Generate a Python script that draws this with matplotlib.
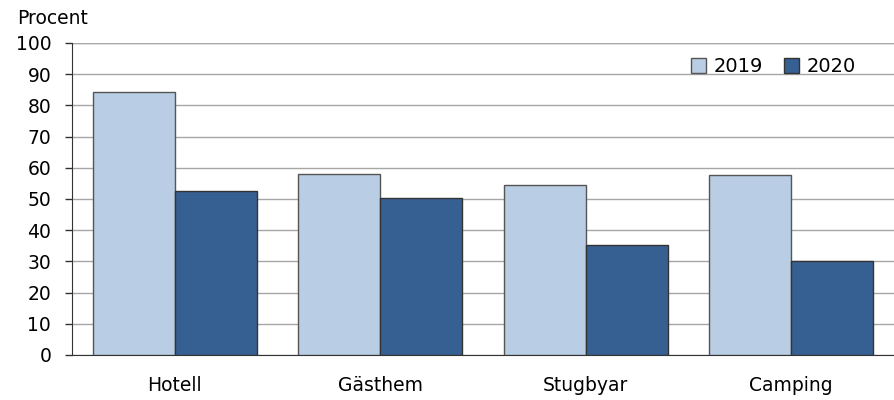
import numpy as np
import matplotlib.pyplot as plt

kategorier = ['Hotell', 'Gästhem', 'Stugbyar', 'Camping']
ar_2019 = [84.2, 58.1, 54.5, 57.8]
ar_2020 = [52.5, 50.3, 35.4, 30.2]
serier = ['2019', '2020']
yticks = [0, 10, 20, 30, 40, 50, 60, 70, 80, 90, 100]

plt.rcParams['font.family'] = ['DejaVu Sans']

fig = plt.figure(figsize=(8.94, 4.0), dpi=100)
ax = fig.add_axes([72 / 894, 45 / 400, 822 / 894, 312 / 400])

x = np.arange(len(kategorier))
b = 0.4
ax.bar(x - b / 2, ar_2019, width=b, color='#B9CDE5', edgecolor='#555555', linewidth=1.0, label=serier[0], zorder=3)
ax.bar(x + b / 2, ar_2020, width=b, color='#376092', edgecolor='#333333', linewidth=1.0, label=serier[1], zorder=3)

ax.set_xlim(-0.5, len(kategorier) - 0.5)
ax.set_ylim(0, 100)
ax.set_yticks(yticks)
ax.set_xticks(x)
ax.set_xticklabels(kategorier)
ax.grid(axis='y', color='#A6A6A6', linewidth=1.0, zorder=0)
ax.tick_params(axis='y', length=5, width=1, color='#333333', pad=10, labelsize=13.5)
ax.tick_params(axis='x', length=0, pad=15, labelsize=13.5)
for s in ['top', 'right']:
    ax.spines[s].set_visible(False)
ax.spines['left'].set_color('#333333')
ax.spines['bottom'].set_color('#333333')
ax.axhline(100, color='#A6A6A6', linewidth=1.0, zorder=1)

ax.legend(loc='upper right', bbox_to_anchor=(0.975, 1.01), frameon=False, fontsize=14,
          ncol=2, handlelength=0.75, handleheight=0.75, handletextpad=0.4, columnspacing=1.1)

fig.text(17 / 894, 1 - 18 / 400, 'Procent', fontsize=13.5, va='center', ha='left')

fig.savefig('out.png', dpi=100)
